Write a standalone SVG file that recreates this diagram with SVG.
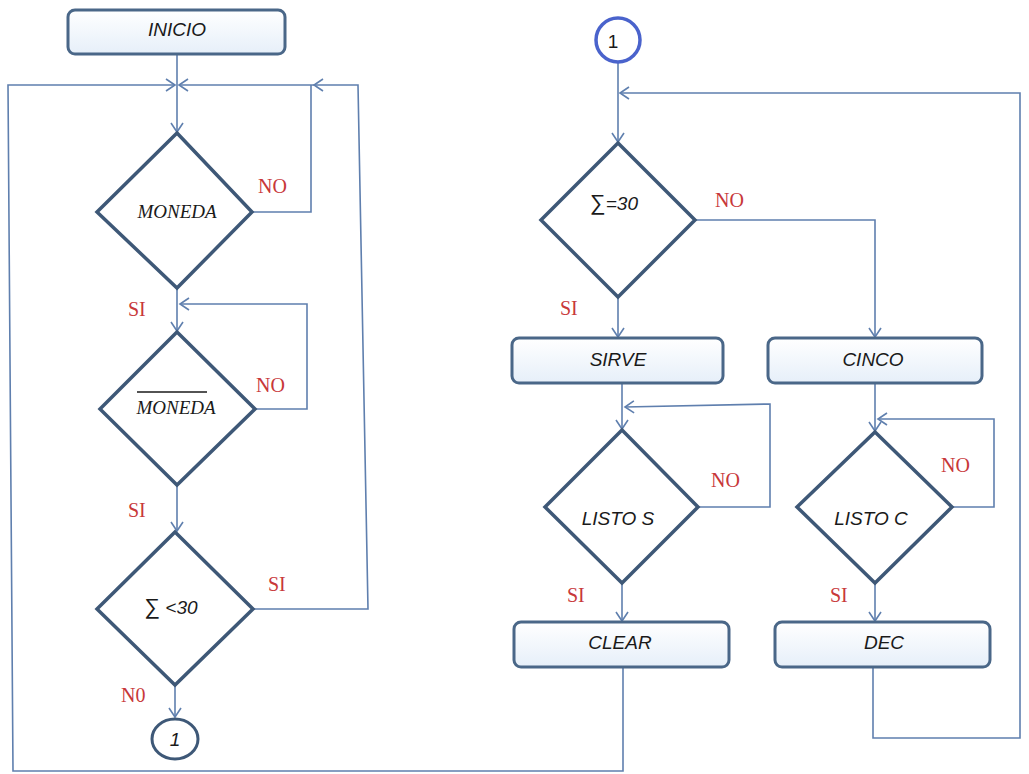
<svg xmlns="http://www.w3.org/2000/svg" width="1029" height="774" viewBox="0 0 1029 774">
<style>
.bg{fill:#ffffff}
.box{fill:url(#gb);stroke:#4a6788;stroke-width:3}
.dia{fill:#ffffff;stroke:#3e5877;stroke-width:3.5;stroke-linejoin:miter}
.ln{fill:none;stroke:#5f7fae;stroke-width:1.6}
.ar{marker-end:url(#arr)}
.t{font-family:"Liberation Sans",Arial,sans-serif;font-style:italic;font-size:19px;fill:#1a1a1a;text-anchor:middle}
.ts{font-family:"Liberation Serif","Times New Roman",serif;font-style:italic;font-size:19px;fill:#1a1a1a;text-anchor:middle}
.lb{font-family:"Liberation Serif","Times New Roman",serif;font-size:20px;fill:#c8383a}
.sg{font-style:normal;font-size:22px}
</style>
<defs>
<linearGradient id="gb" x1="0" y1="0" x2="0" y2="1">
<stop offset="0" stop-color="#ffffff"/>
<stop offset="1" stop-color="#e6eff9"/>
</linearGradient>
<marker id="arr" markerUnits="userSpaceOnUse" markerWidth="20" markerHeight="20" refX="10" refY="10" orient="auto">
<polyline points="1,4 10,10 1,16" fill="none" stroke="#5f7fae" stroke-width="1.6"/>
</marker>
</defs>
<rect class="bg" x="0" y="0" width="1029" height="774"/>

<g id="connectors">
<path class="ln ar" d="M177,54 V132"/>
<path class="ln ar" d="M623,667 V771 H13 L8,85 H175"/>
<path class="ln ar" d="M253,609 H368 L358,85 H314"/>
<path class="ln ar" d="M314,85 H179"/>
<path class="ln" d="M252,212 H311 V85"/>
<path class="ln ar" d="M177,288 V331"/>
<path class="ln ar" d="M255,409 H307 V304 H180"/>
<path class="ln ar" d="M177,485 V531"/>
<path class="ln ar" d="M175,685 V717"/>
<path class="ln ar" d="M618,63 V142"/>
<path class="ln ar" d="M873,667 V738 H1020 V93 H620"/>
<path class="ln ar" d="M618,297 V337"/>
<path class="ln ar" d="M695,220 H875 V337"/>
<path class="ln ar" d="M622,383 V429"/>
<path class="ln ar" d="M698,507 H770 V404 L625,407"/>
<path class="ln ar" d="M875,383 V431"/>
<path class="ln ar" d="M952,507 H994 V419 H878"/>
<path class="ln ar" d="M622,583 V621"/>
<path class="ln ar" d="M875,583 V621"/>
</g>

<g id="inicio">
<rect class="box" x="68" y="10" width="217" height="44" rx="7"/>
<text class="t" x="177" y="36">INICIO</text>
</g>

<g id="moneda">
<polygon class="dia" points="177,133 252,212 177,288 97,212"/>
<text class="ts" x="177" y="218">MONEDA</text>
</g>

<g id="moneda-neg">
<polygon class="dia" points="177,332 255,409 177,485 100,409"/>
<line x1="137" y1="392" x2="207" y2="392" stroke="#1a1a1a" stroke-width="1.3"/>
<text class="ts" x="176" y="414">MONEDA</text>
</g>

<g id="suma-menor">
<polygon class="dia" points="175,532 253,609 175,685 97,609"/>
<text class="t" x="171" y="614"><tspan class="sg">∑</tspan> &lt;30</text>
</g>

<g id="conector-1a">
<ellipse cx="175" cy="739" rx="23" ry="20" fill="#ffffff" stroke="#3e5877" stroke-width="3"/>
<text class="t" x="175" y="746" font-size="16">1</text>
</g>

<g id="conector-1b">
<ellipse cx="618" cy="40" rx="22" ry="22" fill="#ffffff" stroke="#4a63cc" stroke-width="3.5"/>
<text x="613" y="48" font-family="Liberation Sans,Arial,sans-serif" font-size="19" fill="#1a1a1a" text-anchor="middle">1</text>
</g>

<g id="suma-igual">
<polygon class="dia" points="618,143 695,220 618,297 541,220"/>
<text class="t" x="614" y="210"><tspan class="sg">∑</tspan>=30</text>
</g>

<g id="sirve">
<rect class="box" x="512" y="338" width="211" height="45" rx="7"/>
<text class="t" x="618" y="366">SIRVE</text>
</g>

<g id="cinco">
<rect class="box" x="768" y="338" width="214" height="45" rx="7"/>
<text class="t" x="873" y="366">CINCO</text>
</g>

<g id="listo-s">
<polygon class="dia" points="622,430 698,507 622,583 545,507"/>
<text class="t" x="618" y="525">LISTO S</text>
</g>

<g id="listo-c">
<polygon class="dia" points="875,432 952,507 875,583 797,507"/>
<text class="t" x="871" y="525">LISTO C</text>
</g>

<g id="clear">
<rect class="box" x="514" y="622" width="215" height="45" rx="7"/>
<text class="t" x="620" y="649">CLEAR</text>
</g>

<g id="dec">
<rect class="box" x="775" y="622" width="215" height="45" rx="7"/>
<text class="t" x="884" y="649">DEC</text>
</g>

<g id="labels">
<text class="lb" x="258" y="193">NO</text>
<text class="lb" x="128" y="316">SI</text>
<text class="lb" x="256" y="392">NO</text>
<text class="lb" x="128" y="517">SI</text>
<text class="lb" x="268" y="591">SI</text>
<text class="lb" x="121" y="702">N0</text>
<text class="lb" x="715" y="207">NO</text>
<text class="lb" x="560" y="315">SI</text>
<text class="lb" x="711" y="487">NO</text>
<text class="lb" x="941" y="472">NO</text>
<text class="lb" x="567" y="602">SI</text>
<text class="lb" x="830" y="602">SI</text>
</g>
</svg>
